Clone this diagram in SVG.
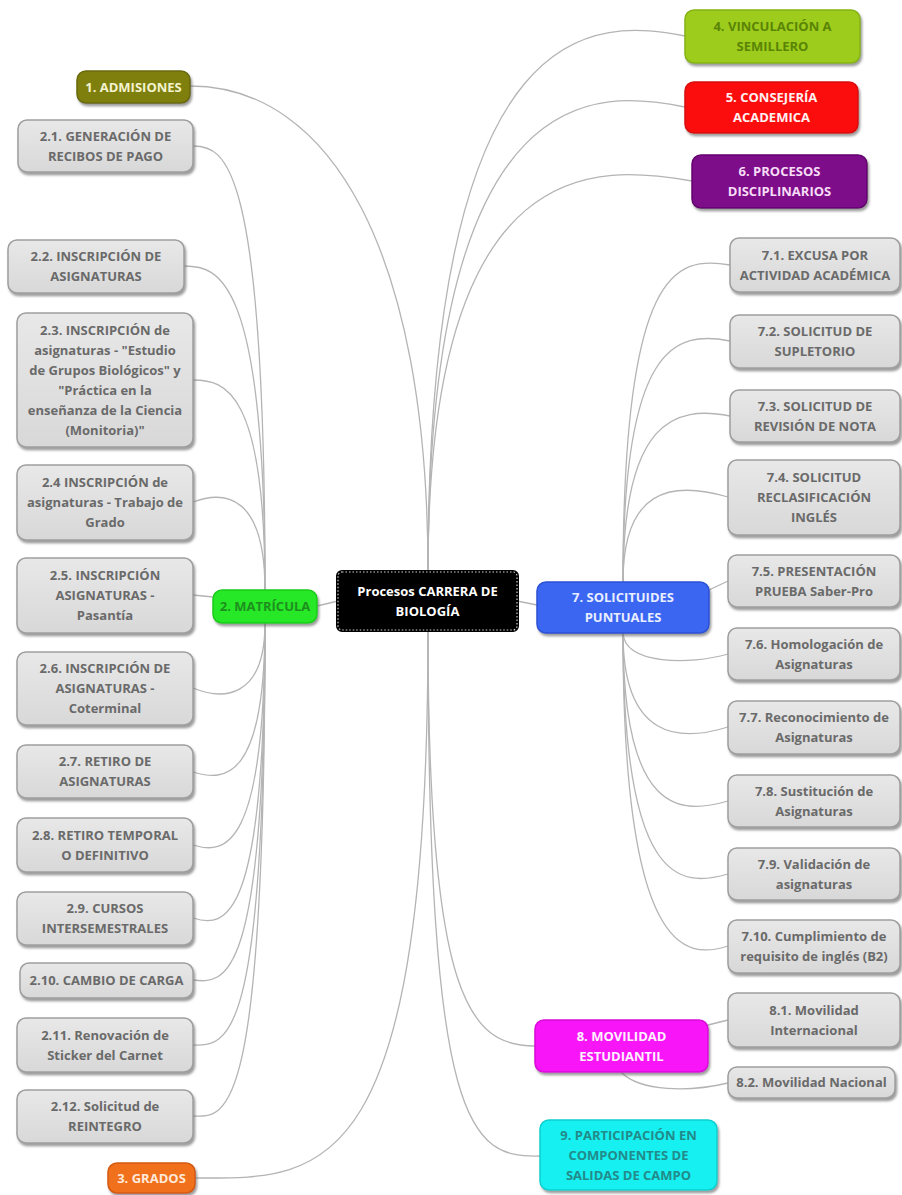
<svg xmlns="http://www.w3.org/2000/svg" width="902" height="1195" viewBox="0 0 902 1195">
<defs>
<linearGradient id="gg" x1="0" y1="0" x2="0" y2="1"><stop offset="0" stop-color="#e8e8e8"/><stop offset="1" stop-color="#d8d8d8"/></linearGradient>
<filter id="sh" x="-10%" y="-10%" width="125%" height="135%"><feDropShadow dx="1.5" dy="2.5" stdDeviation="1.2" flood-color="#666" flood-opacity="0.65"/></filter>
</defs>
<style>
text{font-family:"Open Sans","DejaVu Sans",sans-serif;font-weight:bold;font-size:13px;text-anchor:middle}
.g rect{fill:url(#gg);stroke:#9e9e9e;stroke-width:1.5;filter:url(#sh)}
.g text{fill:#6a6a6a}
.c rect{stroke-width:1.5;filter:url(#sh)}
#edges path{fill:none;stroke:#b4b4b4;stroke-width:1.3}
</style>
<rect width="902" height="1195" fill="#fff"/>
<g id="edges">
<path d="M428,572 C428,250 330,86 190,86"/>
<path d="M428,572 C428,0 600,20 685,36"/>
<path d="M428,572 C428,70 600,90 685,107"/>
<path d="M428,572 C428,145 600,165 692,181"/>
<path d="M428,630 C428,1190 320,1178 195,1178"/>
<path d="M428,630 C428,1000 470,1046 535,1046"/>
<path d="M428,630 C428,1130 470,1158 540,1156"/>
<path d="M338,601 L317,606"/>
<path d="M517,601 L537,605"/>
<path d="M265,590 C265,160 225,146 193,146"/>
<path d="M265,590 C265,275 218,266 184,266"/>
<path d="M265,590 C265,390 225,380 193,380"/>
<path d="M265,590 C265,495 225,490 193,502"/>
<path d="M213,597 L193,595"/>
<path d="M265,623 C265,700 222,700 193,688"/>
<path d="M265,623 C265,780 225,782 193,772"/>
<path d="M265,623 C265,850 225,855 193,845"/>
<path d="M265,623 C265,925 225,928 193,918"/>
<path d="M265,623 C265,985 225,984 193,980"/>
<path d="M265,623 C265,1045 228,1046 193,1045"/>
<path d="M265,623 C265,1118 228,1118 193,1116"/>
<path d="M623,582 C623,270 675,255 730,265"/>
<path d="M623,582 C623,345 675,330 730,341"/>
<path d="M623,582 C623,420 675,405 730,416"/>
<path d="M623,582 C623,490 670,480 728,497"/>
<path d="M709,590 L728,581"/>
<path d="M623,633 C625,665 690,665 728,654"/>
<path d="M623,633 C623,740 680,742 728,727"/>
<path d="M623,633 C623,815 680,815 728,801"/>
<path d="M623,633 C623,885 680,888 728,874"/>
<path d="M623,633 C623,955 685,960 728,946"/>
<path d="M708,1025 L728,1020"/>
<path d="M621,1072 C640,1092 690,1092 728,1083"/>
</g>
<g id="center">
<rect x="338" y="572" width="179" height="58" rx="4" fill="#000" stroke="#000" stroke-width="4"/>
<rect x="338" y="572" width="179" height="58" rx="4" fill="none" stroke="#cfcfcf" stroke-width="1.2" stroke-dasharray="1.5 2"/>
<text x="427.5" y="595.5" fill="#fff">Procesos CARRERA DE</text>
<text x="427.5" y="615.5" fill="#fff">BIOLOGÍA</text>
</g>
<g id="n1" class="c"><rect x="77" y="71" width="113" height="32" rx="9" fill="#7f7f0e" stroke="#6a6a08"/><text x="133.5" y="91.5" fill="#f3f3cf">1. ADMISIONES</text></g>
<g id="n2" class="c"><rect x="213" y="590" width="104" height="33" rx="9" fill="#27e827" stroke="#1ccc1c"/><text x="265" y="611" fill="#1e8f1e">2. MATRÍCULA</text></g>
<g id="n3" class="c"><rect x="108" y="1163" width="87" height="30" rx="9" fill="#f0701c" stroke="#d45a10"/><text x="151.5" y="1182.5" fill="#ffe9d9">3. GRADOS</text></g>
<g id="n4" class="c"><rect x="685" y="10" width="175" height="53" rx="9" fill="#9dcc1e" stroke="#86b312"/><text x="772.5" y="31" fill="#5a8406">4. VINCULACIÓN A</text><text x="772.5" y="51" fill="#5a8406">SEMILLERO</text></g>
<g id="n5" class="c"><rect x="685" y="82" width="173" height="51" rx="9" fill="#fc0f0f" stroke="#d80808"/><text x="771.5" y="102" fill="#fff0f0">5. CONSEJERÍA</text><text x="771.5" y="122" fill="#fff0f0">ACADEMICA</text></g>
<g id="n6" class="c"><rect x="692" y="155" width="175" height="53" rx="9" fill="#7d0a88" stroke="#650570"/><text x="779.5" y="176" fill="#f6dcf6">6. PROCESOS</text><text x="779.5" y="196" fill="#f6dcf6">DISCIPLINARIOS</text></g>
<g id="n7" class="c"><rect x="537" y="582" width="172" height="51" rx="9" fill="#3a66f2" stroke="#2c52d6"/><text x="623" y="602" fill="#e8eeff">7. SOLICITUIDES</text><text x="623" y="622" fill="#e8eeff">PUNTUALES</text></g>
<g id="n8" class="c"><rect x="535" y="1020" width="173" height="52" rx="9" fill="#f814f8" stroke="#d808d8"/><text x="621.5" y="1040.5" fill="#fff0ff">8. MOVILIDAD</text><text x="621.5" y="1060.5" fill="#fff0ff">ESTUDIANTIL</text></g>
<g id="n9" class="c"><rect x="540" y="1120" width="177" height="70" rx="9" fill="#14f0f0" stroke="#0cd0d0"/><text x="628.5" y="1139.5" fill="#238a8a">9. PARTICIPACIÓN EN</text><text x="628.5" y="1159.5" fill="#238a8a">COMPONENTES DE</text><text x="628.5" y="1179.5" fill="#238a8a">SALIDAS DE CAMPO</text></g>
<g id="n2_1" class="g"><rect x="18" y="120" width="175" height="52" rx="9"/><text x="105.5" y="140.5">2.1. GENERACIÓN DE</text><text x="105.5" y="160.5">RECIBOS DE PAGO</text></g>
<g id="n2_2" class="g"><rect x="8" y="240" width="176" height="53" rx="9"/><text x="96" y="261">2.2. INSCRIPCIÓN DE</text><text x="96" y="281">ASIGNATURAS</text></g>
<g id="n2_3" class="g"><rect x="17" y="313" width="176" height="134" rx="9"/><text x="105" y="334.5">2.3. INSCRIPCIÓN de</text><text x="105" y="354.5">asignaturas - "Estudio</text><text x="105" y="374.5">de Grupos Biológicos" y</text><text x="105" y="394.5">"Práctica en la</text><text x="105" y="414.5">enseñanza de la Ciencia</text><text x="105" y="434.5">(Monitoria)"</text></g>
<g id="n2_4" class="g"><rect x="17" y="465" width="176" height="75" rx="9"/><text x="105" y="487">2.4 INSCRIPCIÓN de</text><text x="105" y="507">asignaturas - Trabajo de</text><text x="105" y="527">Grado</text></g>
<g id="n2_5" class="g"><rect x="17" y="558" width="176" height="75" rx="9"/><text x="105" y="580">2.5. INSCRIPCIÓN</text><text x="105" y="600">ASIGNATURAS -</text><text x="105" y="620">Pasantía</text></g>
<g id="n2_6" class="g"><rect x="17" y="652" width="176" height="73" rx="9"/><text x="105" y="673">2.6. INSCRIPCIÓN DE</text><text x="105" y="693">ASIGNATURAS -</text><text x="105" y="713">Coterminal</text></g>
<g id="n2_7" class="g"><rect x="17" y="745" width="176" height="53" rx="9"/><text x="105" y="766">2.7. RETIRO DE</text><text x="105" y="786">ASIGNATURAS</text></g>
<g id="n2_8" class="g"><rect x="17" y="818" width="176" height="54" rx="9"/><text x="105" y="839.5">2.8. RETIRO TEMPORAL</text><text x="105" y="859.5">O DEFINITIVO</text></g>
<g id="n2_9" class="g"><rect x="17" y="892" width="176" height="53" rx="9"/><text x="105" y="913">2.9. CURSOS</text><text x="105" y="933">INTERSEMESTRALES</text></g>
<g id="n2_10" class="g"><rect x="20" y="963" width="173" height="35" rx="9"/><text x="106.5" y="985">2.10. CAMBIO DE CARGA</text></g>
<g id="n2_11" class="g"><rect x="17" y="1018" width="176" height="54" rx="9"/><text x="105" y="1039.5">2.11. Renovación de</text><text x="105" y="1059.5">Sticker del Carnet</text></g>
<g id="n2_12" class="g"><rect x="17" y="1090" width="176" height="53" rx="9"/><text x="105" y="1111">2.12. Solicitud de</text><text x="105" y="1131">REINTEGRO</text></g>
<g id="n7_1" class="g"><rect x="730" y="238" width="170" height="54" rx="9"/><text x="815" y="259.5">7.1. EXCUSA POR</text><text x="815" y="279.5">ACTIVIDAD ACADÉMICA</text></g>
<g id="n7_2" class="g"><rect x="730" y="315" width="170" height="53" rx="9"/><text x="815" y="336">7.2. SOLICITUD DE</text><text x="815" y="356">SUPLETORIO</text></g>
<g id="n7_3" class="g"><rect x="730" y="390" width="170" height="52" rx="9"/><text x="815" y="410.5">7.3. SOLICITUD DE</text><text x="815" y="430.5">REVISIÓN DE NOTA</text></g>
<g id="n7_4" class="g"><rect x="728" y="460" width="172" height="75" rx="9"/><text x="814" y="482">7.4. SOLICITUD</text><text x="814" y="502">RECLASIFICACIÓN</text><text x="814" y="522">INGLÉS</text></g>
<g id="n7_5" class="g"><rect x="728" y="555" width="172" height="52" rx="9"/><text x="814" y="575.5">7.5. PRESENTACIÓN</text><text x="814" y="595.5">PRUEBA Saber-Pro</text></g>
<g id="n7_6" class="g"><rect x="728" y="628" width="172" height="52" rx="9"/><text x="814" y="648.5">7.6. Homologación de</text><text x="814" y="668.5">Asignaturas</text></g>
<g id="n7_7" class="g"><rect x="728" y="701" width="172" height="53" rx="9"/><text x="814" y="722">7.7. Reconocimiento de</text><text x="814" y="742">Asignaturas</text></g>
<g id="n7_8" class="g"><rect x="728" y="775" width="172" height="52" rx="9"/><text x="814" y="795.5">7.8. Sustitución de</text><text x="814" y="815.5">Asignaturas</text></g>
<g id="n7_9" class="g"><rect x="728" y="848" width="172" height="52" rx="9"/><text x="814" y="868.5">7.9. Validación de</text><text x="814" y="888.5">asignaturas</text></g>
<g id="n7_10" class="g"><rect x="728" y="920" width="172" height="53" rx="9"/><text x="814" y="941">7.10. Cumplimiento de</text><text x="814" y="961">requisito de inglés (B2)</text></g>
<g id="n8_1" class="g"><rect x="728" y="993" width="172" height="54" rx="9"/><text x="814" y="1014.5">8.1. Movilidad</text><text x="814" y="1034.5">Internacional</text></g>
<g id="n8_2" class="g"><rect x="728" y="1067" width="167" height="31" rx="9"/><text x="811.5" y="1087">8.2. Movilidad Nacional</text></g>
</svg>
